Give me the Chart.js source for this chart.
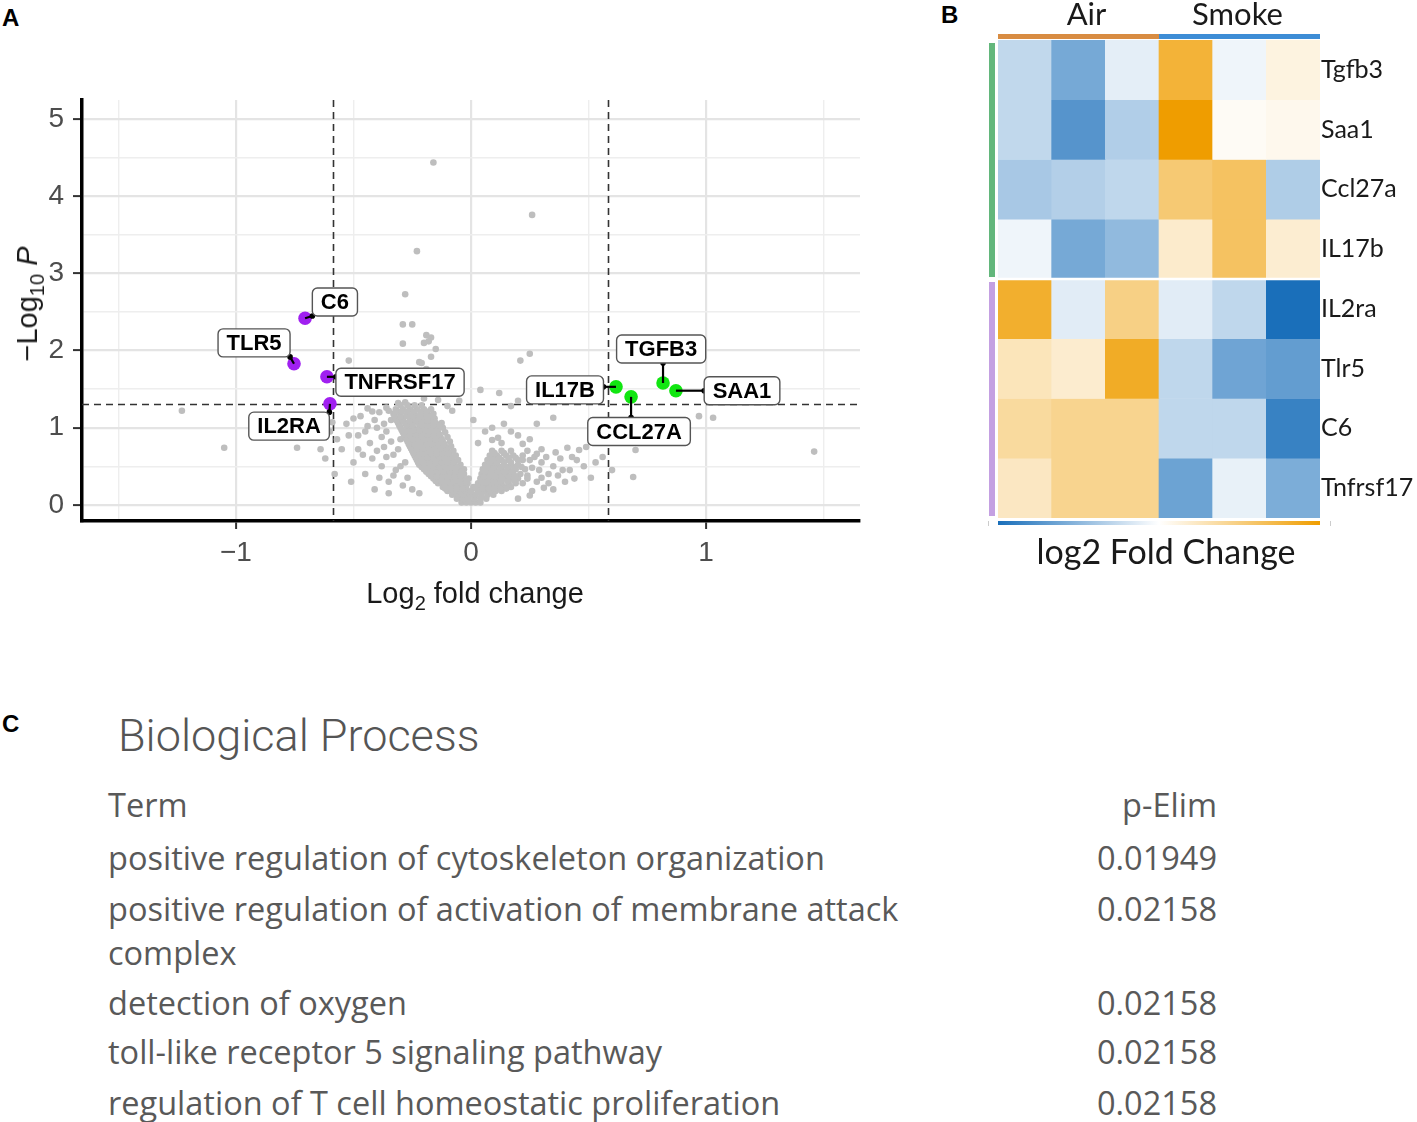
<!DOCTYPE html>
<html><head><meta charset="utf-8">
<script src="https://cdn.jsdelivr.net/npm/chart.js@4.4.0/dist/chart.umd.min.js"></script>
<style>
body{margin:0;background:#fff;}
#page{position:relative;width:1417px;height:1122px;overflow:hidden;font-family:'Liberation Sans',Arial,sans-serif;background:#fff;}
.abs{position:absolute;white-space:nowrap;}
.panel{font-weight:bold;font-size:24px;color:#000;line-height:24px;}
.axt{font-size:29px;color:#1a1a1a;line-height:32px;}
.axt sub{font-size:20px;vertical-align:-7px;line-height:0;}
.bp{font-family:'Open Sans',Lato,sans-serif;color:#595959;font-size:32.5px;line-height:42px;}
</style></head>
<body><div id="page">
<div class="abs panel" style="left:2px;top:6px;">A</div>
<div class="abs panel" style="left:941px;top:3px;">B</div>
<div class="abs panel" style="left:2px;top:712px;">C</div>

<canvas id="volcano" class="abs" style="left:0;top:0;" width="880" height="640"></canvas>
<div class="abs axt" style="left:475px;top:593px;transform:translate(-50%,-50%);">Log<sub>2</sub> fold change</div>
<div class="abs axt" style="left:27px;top:304px;transform:translate(-50%,-50%) rotate(-90deg);">&minus;Log<sub>10</sub> <i>P</i></div>

<canvas id="heat" class="abs" style="left:980px;top:0;" width="437" height="580"></canvas>

<div id="tableC"></div>

<script>
// ---------------- Panel A data ----------------
const FC_CUT = 0.585;      // log2 fold-change threshold
const P_CUT = 1.301;       // -log10(0.05)

const downGenes = ['C6', 'TLR5', 'TNFRSF17', 'IL2RA'];
const downX = [-0.706, -0.753, -0.613, -0.600];
const downY = [2.42, 1.83, 1.66, 1.31];
const upGenes = ['IL17B', 'CCL27A', 'TGFB3', 'SAA1'];
const upX = [0.617, 0.681, 0.817, 0.872];
const upY = [1.53, 1.40, 1.58, 1.48];
// label anchor (data units) for each labelled gene
const labelX = {C6:-0.579, TLR5:-0.923, TNFRSF17:-0.302, IL2RA:-0.774, IL17B:0.40, CCL27A:0.715, TGFB3:0.809, SAA1:1.153};
const labelY = {C6:2.63, TLR5:2.10, TNFRSF17:1.59, IL2RA:1.02, IL17B:1.49, CCL27A:0.95, TGFB3:2.02, SAA1:1.48};

// non-significant genes: scattered points [log2FC, -log10P]
const otherScattered = [
 [-0.16,4.44],[0.26,3.76],[-0.23,3.29],[-0.28,2.73],[-0.29,2.34],[-0.25,2.34],[-0.29,2.09],[-0.19,2.2],[-0.17,2.17],[-0.2,2.1],[-0.18,2.12],[-0.15,2.02],[-0.17,1.92],[-0.22,1.85],[-0.21,1.84],[-0.52,1.87],[0.21,1.87],[0.25,1.96],
 [-1.23,1.22],[-1.05,0.74],[-0.74,0.74],[-0.64,0.72],[-0.59,1.07],[1.46,0.69],[1.03,1.13],[0.97,1.15],[0.7,0.71],[0.69,0.36],[0.51,0.35],[0.35,1.13],[0.46,0.71],[0.41,0.74],[0.49,0.75],
 [0.04,1.49],[0.12,1.45],[0.2,1.35],[0.17,1.28],[-0.42,1.21],[-0.36,1.26],[-0.31,1.32],[-0.28,1.33],[-0.2,1.38],[-0.14,1.36],[-0.1,1.28],[-0.08,1.22],[-0.24,1.44],[-0.27,1.47],[-0.18,1.5],[-0.21,1.56],[-0.15,1.62],[-0.23,1.7],[-0.19,1.76],[-0.29,1.6],[-0.12,1.45],[-0.05,1.35],
 [0.09,1.0],[0.17,0.95],[0.03,0.8],[0.09,0.84],[0.115,0.87],[0.13,0.8],[0.25,0.85],[0.22,0.79],[0.3,0.72],[0.38,0.6],[0.35,0.5],[0.42,0.45],[0.33,0.4],[0.4,0.3],[0.45,0.58],[0.28,0.3],[0.3,0.55],[0.36,0.68],[0.27,0.62],[0.24,0.7],[0.32,0.62],[0.37,0.38],[0.44,0.34],[0.31,0.22],[0.26,0.18],[0.48,0.5],[0.56,0.62],[0.6,0.45],[0.53,0.55],[0.2,0.9],[0.06,0.95],[0.14,1.05],[0.01,1.1],[0.28,1.05],
 [0.29,0.45],[0.33,0.28],[0.35,0.2],[0.24,0.38],[0.26,0.48],[0.22,0.58],[0.28,0.66],[0.39,0.45],[0.43,0.62],[0.3,0.35],[0.25,0.12],[0.2,0.08],
 [-0.55,0.72],[-0.5,0.55],[-0.48,0.9],[-0.45,0.4],[-0.43,0.8],[-0.42,0.6],[-0.4,1.0],[-0.38,0.5],[-0.37,0.75],[-0.36,0.95],[-0.35,0.3],[-0.34,1.1],[-0.33,0.65],[-0.32,0.45],[-0.3,0.85],[-0.29,0.25],[-0.28,0.55],[-0.6,0.95],[-0.58,0.4],[-0.62,0.6],[-0.53,1.05],[-0.47,1.15],[-0.44,1.25],[-0.39,1.2],[-0.46,0.65],[-0.51,0.3],[-0.41,0.2],[-0.57,0.85],[-0.44,1.02],[-0.35,0.15],
 [-0.38,0.88],[-0.36,0.62],[-0.34,0.82],[-0.33,0.38],[-0.4,0.7],[-0.41,1.1],[-0.37,1.05],[-0.31,0.72],[-0.3,0.5],[-0.27,0.35],[-0.25,0.2],[-0.22,0.15],[-0.48,0.72],[-0.52,0.9],[-0.45,0.95],[-0.39,0.35],[-0.35,1.22],[-0.5,1.12]
];
// dense core of non-significant genes, as rows: [-log10P, [log2FC values]]
const otherCore = [
 [0.03,[-0.04,-0.02,0,0.02,0.04]],
 [0.08,[-0.06,-0.035,-0.01,0.015,0.04,0.065]],
 [0.13,[-0.08,-0.055,-0.03,-0.005,0.02,0.045,0.07,0.095]],
 [0.18,[-0.1,-0.075,-0.05,-0.025,0,0.03,0.055,0.08,0.105,0.13]],
 [0.23,[-0.12,-0.095,-0.07,-0.045,-0.02,0.01,0.04,0.065,0.09,0.115,0.14,0.17]],
 [0.28,[-0.14,-0.115,-0.09,-0.065,-0.04,-0.015,0.03,0.055,0.08,0.105,0.13,0.16,0.19,0.22]],
 [0.34,[-0.16,-0.135,-0.11,-0.085,-0.06,-0.035,-0.01,0.04,0.065,0.09,0.115,0.14,0.17,0.2,0.24]],
 [0.40,[-0.18,-0.155,-0.13,-0.105,-0.08,-0.055,-0.03,0.045,0.07,0.095,0.12,0.15,0.18,0.21]],
 [0.46,[-0.2,-0.175,-0.15,-0.125,-0.1,-0.075,-0.05,-0.03,0.05,0.075,0.1,0.13,0.16,0.19,0.23]],
 [0.52,[-0.22,-0.195,-0.17,-0.145,-0.12,-0.095,-0.07,-0.045,0.06,0.085,0.11,0.14,0.17,0.2]],
 [0.58,[-0.23,-0.205,-0.18,-0.155,-0.13,-0.105,-0.08,-0.055,0.07,0.1,0.13,0.16,0.2,0.25]],
 [0.64,[-0.24,-0.215,-0.19,-0.165,-0.14,-0.115,-0.09,-0.065,0.08,0.11,0.15,0.18,0.22]],
 [0.70,[-0.25,-0.225,-0.2,-0.175,-0.15,-0.125,-0.1,-0.075,0.09,0.13,0.17]],
 [0.76,[-0.26,-0.235,-0.21,-0.185,-0.16,-0.135,-0.11,-0.085]],
 [0.82,[-0.27,-0.245,-0.22,-0.195,-0.17,-0.145,-0.12,-0.09]],
 [0.88,[-0.28,-0.255,-0.23,-0.205,-0.18,-0.155,-0.13,-0.1]],
 [0.94,[-0.29,-0.265,-0.24,-0.215,-0.19,-0.165,-0.14,-0.11]],
 [1.00,[-0.3,-0.27,-0.245,-0.22,-0.195,-0.17,-0.145,-0.12]],
 [1.06,[-0.31,-0.28,-0.25,-0.225,-0.2,-0.175,-0.15,-0.125]],
 [1.12,[-0.32,-0.29,-0.26,-0.23,-0.205,-0.18,-0.155]],
 [1.18,[-0.33,-0.3,-0.27,-0.24,-0.21,-0.185,-0.16]],
 [1.24,[-0.32,-0.29,-0.26,-0.23,-0.2,-0.17]],
 [1.29,[-0.3,-0.27,-0.24,-0.21]],
 // interleaved rows filling the body of the cloud
 [0.21,[-0.11,-0.085,-0.06,-0.035,0.02,0.05,0.075,0.1,0.125,0.15]],
 [0.31,[-0.15,-0.125,-0.1,-0.075,-0.05,-0.02,0.045,0.07,0.1,0.125,0.155,0.185]],
 [0.37,[-0.17,-0.145,-0.12,-0.095,-0.07,-0.045,0.055,0.08,0.105,0.13,0.16,0.19]],
 [0.43,[-0.19,-0.165,-0.14,-0.115,-0.09,-0.065,-0.04,0.06,0.085,0.115,0.145,0.175]],
 [0.49,[-0.21,-0.185,-0.16,-0.135,-0.11,-0.085,-0.06,0.07,0.095,0.125,0.155,0.185,0.215]],
 [0.55,[-0.225,-0.2,-0.175,-0.15,-0.125,-0.1,-0.075,0.08,0.11,0.14,0.17]],
 [0.61,[-0.235,-0.21,-0.185,-0.16,-0.135,-0.11,-0.085,0.09,0.12,0.16,0.19]],
 [0.67,[-0.245,-0.22,-0.195,-0.17,-0.145,-0.12,-0.095,0.1,0.14]],
 [0.73,[-0.255,-0.23,-0.205,-0.18,-0.155,-0.13,-0.105]],
 [0.79,[-0.265,-0.24,-0.215,-0.19,-0.165,-0.14,-0.115]],
 [0.85,[-0.275,-0.25,-0.225,-0.2,-0.175,-0.15,-0.125]],
 [0.91,[-0.285,-0.26,-0.235,-0.21,-0.185,-0.16,-0.135]],
 [0.97,[-0.295,-0.27,-0.245,-0.22,-0.195,-0.17,-0.145]],
 [1.03,[-0.305,-0.275,-0.25,-0.21,-0.185,-0.16,-0.135]],
 [1.09,[-0.315,-0.29,-0.26,-0.235,-0.21,-0.185,-0.16]],
 [1.15,[-0.325,-0.3,-0.275,-0.25,-0.22,-0.19,-0.165]],
 [1.21,[-0.32,-0.295,-0.27,-0.245,-0.215,-0.19]]
];
const xTicks = [-1, 0, 1];
const yTicks = [0, 1, 2, 3, 4, 5];

// ---------------- Panel B data ----------------
const heatGenes = ['Tgfb3','Saa1','Ccl27a','IL17b','IL2ra','Tlr5','C6','Tnfrsf17'];
const heatSamples = ['Air 1','Air 2','Air 3','Smoke 1','Smoke 2','Smoke 3'];
const heatGroups = ['Air','Smoke'];
const heatValues = [
 [-0.27,-0.60,-0.12, 0.78,-0.07, 0.12],
 [-0.27,-0.74,-0.34, 1.00, 0.04, 0.07],
 [-0.38,-0.33,-0.28, 0.55, 0.62,-0.35],
 [-0.07,-0.60,-0.48, 0.20, 0.62, 0.18],
 [ 0.82,-0.13, 0.48,-0.13,-0.28,-1.00],
 [ 0.27, 0.19, 0.85,-0.28,-0.63,-0.68],
 [ 0.38, 0.44, 0.44,-0.28,-0.28,-0.87],
 [ 0.24, 0.44, 0.44,-0.64,-0.10,-0.57]
];

// ---------------- Panel C data ----------------
const goTitle = 'Biological Process';
const goHeader = ['Term','p-Elim'];
const goTerms = ['positive regulation of cytoskeleton organization',
 'positive regulation of activation of membrane attack\ncomplex',
 'detection of oxygen',
 'toll-like receptor 5 signaling pathway',
 'regulation of T cell homeostatic proliferation'];
const goPvals = ['0.01949','0.02158','0.02158','0.02158','0.02158'];

// ================= Panel A =================
const grayPts = otherScattered.map(p=>({x:p[0],y:p[1]}));
otherCore.forEach(r=>r[1].forEach(x=>grayPts.push({x:x,y:r[0]})));
const downPts = downX.map((x,i)=>({x:x,y:downY[i],g:downGenes[i]}));
const upPts = upX.map((x,i)=>({x:x,y:upY[i],g:upGenes[i]}));
const isInt = v => Math.abs(v-Math.round(v))<1e-6;
const fmt = v => v<0 ? '\u2212'+Math.abs(Math.round(v)) : String(Math.round(v));

const volcanoPlugin = {
 id:'volc',
 beforeDatasetsDraw(chart){
  const {ctx, chartArea:a, scales:{x,y}} = chart;
  ctx.save();
  ctx.strokeStyle='#333'; ctx.lineWidth=1.6; ctx.setLineDash([7,5]);
  [-FC_CUT, FC_CUT].forEach(v=>{const px=x.getPixelForValue(v); ctx.beginPath(); ctx.moveTo(px,a.top); ctx.lineTo(px,a.bottom); ctx.stroke();});
  const py=y.getPixelForValue(P_CUT); ctx.beginPath(); ctx.moveTo(a.left,py); ctx.lineTo(a.right,py); ctx.stroke();
  ctx.restore();
 },
 afterDatasetsDraw(chart){
  const {ctx, scales:{x,y}} = chart;
  ctx.save();
  ctx.font='bold 22px "Liberation Sans", Arial, sans-serif';
  ctx.textAlign='center'; ctx.textBaseline='middle';
  downPts.concat(upPts).forEach(p=>{
   const px=x.getPixelForValue(p.x), py=y.getPixelForValue(p.y);
   const cx=x.getPixelForValue(labelX[p.g]), cy=y.getPixelForValue(labelY[p.g]);
   const w=ctx.measureText(p.g).width+17, h=28;
   const l=cx-w/2, t=cy-h/2;
   const ex=Math.min(Math.max(px,l),l+w), ey=Math.min(Math.max(py,t),t+h);
   ctx.strokeStyle='#000'; ctx.lineWidth=2.2; ctx.setLineDash([]);
   ctx.beginPath(); ctx.moveTo(px,py); ctx.lineTo(ex,ey); ctx.stroke();
   ctx.fillStyle='#000'; ctx.beginPath(); ctx.arc(ex,ey,2.8,0,Math.PI*2); ctx.fill();
   ctx.fillStyle='#fff'; ctx.strokeStyle='#555'; ctx.lineWidth=1.4;
   ctx.beginPath(); ctx.roundRect(l,t,w,h,5); ctx.fill(); ctx.stroke();
   ctx.fillStyle='#000'; ctx.fillText(p.g,cx,cy+1);
  });
  ctx.restore();
 }
};

const tickFont = {family:'"Liberation Sans", Arial, sans-serif', size:28};
new Chart(document.getElementById('volcano'), {
 type:'scatter',
 data:{datasets:[
  {data:grayPts, backgroundColor:'#bebebe', borderWidth:0, pointRadius:3.3, pointHoverRadius:3.3},
  {data:downPts, backgroundColor:'#a020f0', borderWidth:0, pointRadius:6.8, pointHoverRadius:6.8},
  {data:upPts, backgroundColor:'#11e611', borderWidth:0, pointRadius:6.8, pointHoverRadius:6.8}
 ]},
 options:{
  responsive:false, animation:false, events:[],
  plugins:{legend:{display:false}, tooltip:{enabled:false}},
  layout:{padding:{top:100,right:20,left:0,bottom:0}},
  scales:{
   x:{type:'linear', min:-1.655, max:1.655,
      afterFit(s){s.height=119;},
      afterBuildTicks(s){ s.ticks=[-1.5,-1,-0.5,0,0.5,1,1.5].map(v=>({value:v})); },
      ticks:{autoSkip:false, maxRotation:0, callback:v=>xTicks.some(t=>isInt(v)&&t===Math.round(v))?fmt(v):'', color:'#4d4d4d', font:tickFont, padding:7},
      grid:{color:c=>isInt(c.tick.value)?'#e4e4e4':'#eeeeee', lineWidth:c=>isInt(c.tick.value)?2.2:1.4,
            tickColor:c=>isInt(c.tick.value)?'#333':'rgba(0,0,0,0)', tickLength:8, tickWidth:2},
      border:{display:true, color:'#000', width:3.5}},
   y:{type:'linear', min:-0.21, max:5.25,
      afterFit(s){s.width=82;},
      afterBuildTicks(s){ s.ticks=[0,0.5,1,1.5,2,2.5,3,3.5,4,4.5,5].map(v=>({value:v})); },
      ticks:{autoSkip:false, callback:v=>yTicks.some(t=>isInt(v)&&t===Math.round(v))?fmt(v):'', color:'#4d4d4d', font:tickFont, padding:9},
      grid:{color:c=>isInt(c.tick.value)?'#e4e4e4':'#eeeeee', lineWidth:c=>isInt(c.tick.value)?2.2:1.4,
            tickColor:c=>isInt(c.tick.value)?'#333':'rgba(0,0,0,0)', tickLength:9, tickWidth:2},
      border:{display:true, color:'#000', width:3.5}}
  }
 },
 plugins:[volcanoPlugin]
});

// ================= Panel B =================
const BLUE=[26,111,186], WHITE=[255,255,255], ORANGE=[239,157,0];
function heatColor(v){
 const t=Math.min(1,Math.abs(v)); const c=v<0?BLUE:ORANGE;
 const r=WHITE.map((w,i)=>Math.round(w+(c[i]-w)*t));
 return 'rgb('+r.join(',')+')';
}
const heatFont='Lato, "Open Sans", sans-serif';
const heatPlugin = {
 id:'heatdeco',
 afterDatasetsDraw(chart){
  const {ctx, chartArea:a, scales:{x,y}} = chart;
  ctx.save();
  const ys=y.getPixelForValue(4);
  ctx.strokeStyle='#fff'; ctx.lineWidth=2.5; ctx.beginPath(); ctx.moveTo(a.left,ys); ctx.lineTo(a.right,ys); ctx.stroke();
  const mid=(x.getPixelForValue(2)+x.getPixelForValue(3))/2;
  ctx.fillStyle='#d88c42'; ctx.fillRect(a.left,a.top-6,mid-a.left,5);
  ctx.fillStyle='#3d8dd6'; ctx.fillRect(mid,a.top-6,a.right-mid,5);
  ctx.fillStyle='#1a1a1a'; ctx.font='31px '+heatFont; ctx.textAlign='center'; ctx.textBaseline='middle';
  ctx.fillText(heatGroups[0],(a.left+mid)/2+8,15);
  ctx.fillText(heatGroups[1],(mid+a.right)/2-2,15);
  ctx.fillStyle='#63b77c'; ctx.fillRect(a.left-9,a.top+3,6,ys-a.top-5);
  ctx.fillStyle='#c4a0e2'; ctx.fillRect(a.left-9,ys+3,6,a.bottom-ys-5);
  const g=ctx.createLinearGradient(a.left,0,a.right,0);
  g.addColorStop(0,'rgb(26,111,186)'); g.addColorStop(0.5,'#ffffff'); g.addColorStop(1,'rgb(239,157,0)');
  ctx.fillStyle=g; ctx.fillRect(a.left,a.bottom+3,a.right-a.left,4);
  ctx.fillStyle='#cccccc'; ctx.fillRect(a.left-10,a.bottom+3,1,5); ctx.fillRect(a.right+10,a.bottom+3,1,5);
  ctx.fillStyle='#1a1a1a'; ctx.font='34px '+heatFont;
  ctx.fillText('log2 Fold Change',(a.left+a.right)/2+7,553);
  ctx.restore();
 }
};
new Chart(document.getElementById('heat'), {
 type:'bar',
 data:{labels:heatSamples,
  datasets:heatGenes.map((gname,i)=>({label:gname, data:heatSamples.map(()=>1),
   backgroundColor:heatValues[i].map(heatColor), borderWidth:0, barPercentage:1, categoryPercentage:1, stack:'s'}))},
 options:{
  responsive:false, animation:false, events:[],
  plugins:{legend:{display:false}, tooltip:{enabled:false}},
  layout:{padding:{left:18,top:40,bottom:62,right:0}},
  scales:{
   x:{stacked:true, display:false},
   y:{stacked:true, min:0, max:8, reverse:true, position:'right',
      afterFit(s){s.width=97;},
      afterBuildTicks(s){ s.ticks=heatGenes.map((g,i)=>({value:i+0.5})); },
      ticks:{autoSkip:false, callback:(v,i)=>heatGenes[i], color:'#1a1a1a', font:{family:heatFont,size:25}, padding:1},
      grid:{display:false, drawTicks:false}, border:{display:false}}
  }
 },
 plugins:[heatPlugin]
});

// ================= Panel C =================
(function(){
 const host=document.getElementById('tableC');
 let html='<div class="abs bp" style="left:118px;top:710px;font-size:45px;line-height:52px;font-family:Roboto,\'Open Sans\',sans-serif;font-weight:300;color:#555;">'+goTitle+'</div>';
 html+='<div class="abs bp" style="left:108px;top:784px;">'+goHeader[0]+'</div>';
 html+='<div class="abs bp" style="right:200px;top:784px;">'+goHeader[1]+'</div>';
 const tops=[837,888,982,1031,1082];
 goTerms.forEach((t,i)=>{
  const lines=t.split('\n');
  lines.forEach((ln,j)=>{ html+='<div class="abs bp" style="left:108px;top:'+(tops[i]+j*44)+'px;">'+ln+'</div>'; });
  html+='<div class="abs bp" style="right:200px;top:'+tops[i]+'px;">'+goPvals[i]+'</div>';
 });
 host.innerHTML=html;
})();
</script>
</div></body></html>
